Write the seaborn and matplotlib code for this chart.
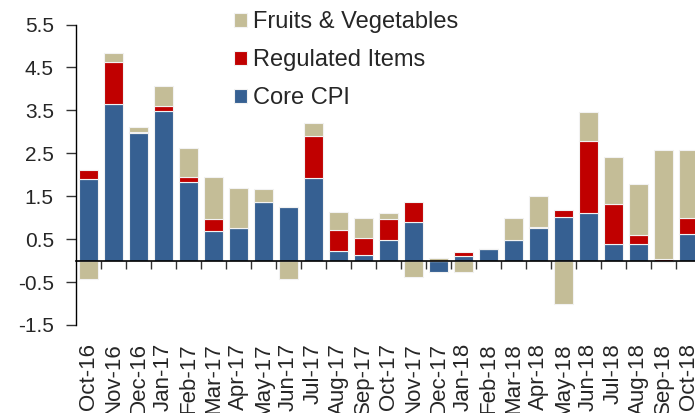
import numpy as np
import pandas as pd
import matplotlib
matplotlib.use("Agg")
import matplotlib.pyplot as plt
import seaborn as sns

# Monthly contributions to CPI inflation (pp)
months = ["Oct-16", "Nov-16", "Dec-16", "Jan-17", "Feb-17", "Mar-17", "Apr-17",
          "May-17", "Jun-17", "Jul-17", "Aug-17", "Sep-17", "Oct-17", "Nov-17",
          "Dec-17", "Jan-18", "Feb-18", "Mar-18", "Apr-18", "May-18", "Jun-18",
          "Jul-18", "Aug-18", "Sep-18", "Oct-18"]
core_cpi = [1.90, 3.64, 2.98, 3.48, 1.83, 0.68, 0.75, 1.37, 1.25, 1.92, 0.23, 0.13,
            0.48, 0.89, -0.26, 0.11, 0.28, 0.47, 0.77, 1.02, 1.12, 0.39, 0.39,
            -0.04, 0.62]
regulated = [0.22, 0.98, 0.02, 0.12, 0.11, 0.28, 0.0, 0.0, 0.0, 0.99, 0.48, 0.40,
             0.48, 0.47, 0.0, 0.08, 0.0, 0.0, 0.02, 0.17, 1.67, 0.94, 0.21,
             0.03, 0.37]
fruits_veg = [-0.43, 0.22, 0.12, 0.46, 0.69, 0.99, 0.94, 0.30, -0.43, 0.30, 0.42,
              0.47, 0.15, -0.39, 0.05, -0.26, 0.0, 0.52, 0.72, -1.02, 0.68, 1.09,
              1.18, 2.54, 1.59]
yticks = [-1.5, -0.5, 0.5, 1.5, 2.5, 3.5, 4.5, 5.5]

c_core = "#366092"
c_reg = "#C00000"
c_fv = "#C4BD97"

df = pd.DataFrame({"month": months, "core": core_cpi, "reg": regulated, "fv": fruits_veg})

# stacking: positives pile up from zero, negatives go down from zero
pos_base = df["core"].clip(lower=0)
neg_base = df["core"].clip(upper=0)
df["reg_bottom"] = pos_base
df["fv_bottom"] = np.where(df["fv"] >= 0, pos_base + df["reg"], neg_base)

sns.set_style("white")
plt.rcParams["font.family"] = ["Liberation Sans", "DejaVu Sans"]

fig = plt.figure(figsize=(6.95, 4.13), dpi=100)
left, bottom, width, height = 76 / 695, 88 / 413, 619 / 695, 300.5 / 413
ax = fig.add_axes([left, bottom, width, height])

bar_kw = dict(width=0.78, saturation=1, errorbar=None, edgecolor="#f2f2f2",
              linewidth=0.8, ax=ax)
sns.barplot(data=df, x="month", y="core", color=c_core, label="Core CPI", **bar_kw)
sns.barplot(data=df, x="month", y="reg", bottom=df["reg_bottom"].values, color=c_reg,
            label="Regulated Items", **bar_kw)
sns.barplot(data=df, x="month", y="fv", bottom=df["fv_bottom"].values, color=c_fv,
            label="Fruits & Vegetables", **bar_kw)
if ax.get_legend() is not None:
    ax.get_legend().remove()

ymin, ymax = -1.5, 5.5
ax.set_xlim(-0.5, 24.26)
ax.set_ylim(ymin, ymax)
ax.set_yticks(yticks)
ax.set_yticklabels([f"{v:.1f}" for v in yticks])
ax.set_xlabel("")
ax.set_ylabel("")

for s in ["top", "right", "bottom"]:
    ax.spines[s].set_visible(False)
ax.spines["left"].set_color("black")
ax.spines["left"].set_linewidth(1)
ax.tick_params(axis="y", length=7, width=1, color="#333333", pad=9,
               labelsize=15, direction="out", left=True)
ax.tick_params(axis="x", length=0, pad=13, labelsize=16, labelrotation=90)

# zero line with ticks between categories, pointing down
zero_y = bottom + height * (0 - ymin) / (ymax - ymin)
zax = fig.add_axes([left, zero_y, width, 1e-5])
zax.set_xlim(ax.get_xlim())
zax.patch.set_visible(False)
for s in ["top", "right", "left"]:
    zax.spines[s].set_visible(False)
zax.spines["bottom"].set_color("black")
zax.spines["bottom"].set_linewidth(1.2)
zax.set_yticks([])
zax.set_xticks(np.arange(0.5, len(months) - 1, 1))
zax.tick_params(axis="x", length=6, width=1, direction="out", bottom=True,
                labelbottom=False, color="#333333")

handles, labels = ax.get_legend_handles_labels()
fig.legend(handles[::-1], labels[::-1], loc="upper left",
           bbox_to_anchor=(234 / 695, 1 - 11 / 413), frameon=False, fontsize=17,
           handlelength=0.55, handleheight=0.55, handletextpad=0.25,
           labelspacing=0.68, borderpad=0, borderaxespad=0)

fig.savefig("out.png", dpi=100)
